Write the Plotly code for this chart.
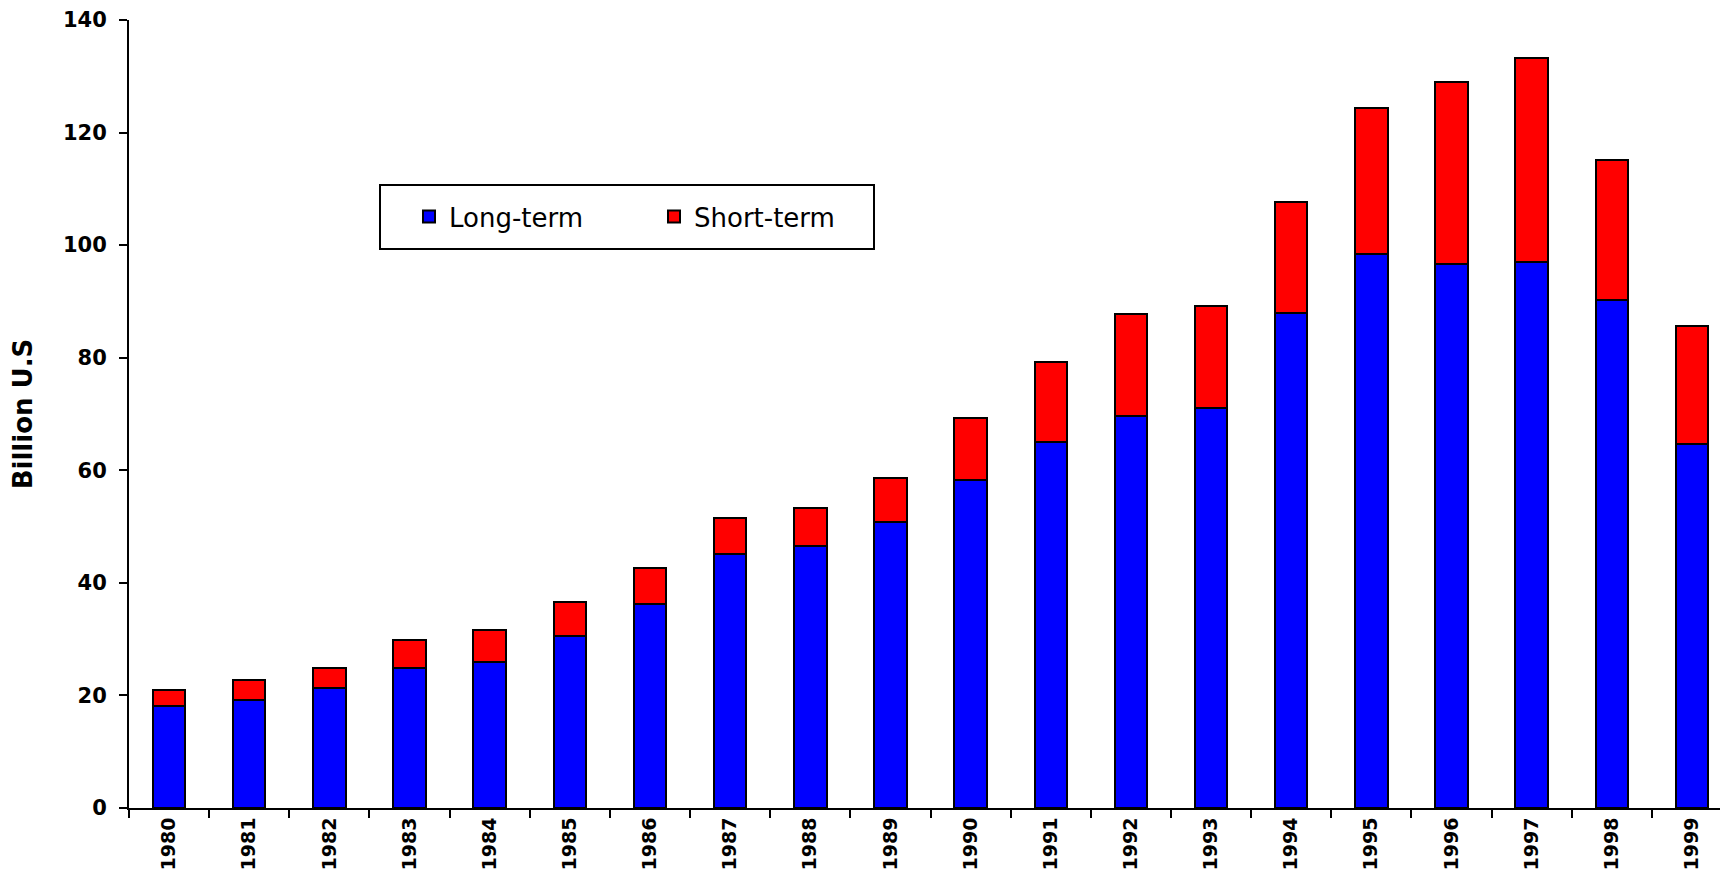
import plotly.graph_objects as go

# values (billion US$)
years = [str(y) for y in range(1980, 2000)]
long_term = [18.1, 19.2, 21.3, 24.8, 25.9, 30.6, 36.2, 45.1, 46.5, 50.9,
             58.3, 65.0, 69.6, 71.0, 88.0, 98.5, 96.6, 97.0, 90.2, 64.6]
total = [21.0, 22.7, 24.9, 29.8, 31.6, 36.6, 42.7, 51.6, 53.3, 58.7,
         69.3, 79.3, 87.8, 89.2, 107.7, 124.4, 129.0, 133.3, 115.2, 85.7]
short_term = [round(t - l, 1) for t, l in zip(total, long_term)]
y_ticks = [0, 20, 40, 60, 80, 100, 120, 140]

# page body has an 8px margin, so the figure is sized/placed to compensate
OFF = 8
W, H = 1728 - OFF, 871 - OFF
L, R, T, B = 129 - OFF, 0, 20 - OFF, 63
pw = W - L - R
ph = H - T - B


def px_x(x):
    return (x - OFF - L) / pw


def px_y(y):
    return (H - B - (y - OFF)) / ph


fig = go.Figure()
fig.add_bar(x=years, y=long_term, name="Long-term",
            marker=dict(color="#0000ff", line=dict(color="black", width=2)))
fig.add_bar(x=years, y=short_term, name="Short-term",
            marker=dict(color="#ff0000", line=dict(color="black", width=2)))

# legend frame
fig.add_shape(type="rect", xref="paper", yref="paper",
              x0=px_x(380), x1=px_x(874), y0=px_y(249), y1=px_y(185),
              line=dict(color="black", width=2), fillcolor="white", layer="below")

fig.update_layout(
    width=W, height=H,
    margin=dict(l=L, r=R, t=T, b=B),
    barmode="stack",
    bargap=0.595,
    plot_bgcolor="white",
    paper_bgcolor="white",
    font=dict(family="DejaVu Sans", color="black"),
    legend=dict(
        orientation="h",
        traceorder="normal",
        x=px_x(409), y=px_y(193),
        xanchor="left", yanchor="top",
        font=dict(family="DejaVu Sans", size=26),
        entrywidth=200,
        bgcolor="rgba(0,0,0,0)",
        borderwidth=0,
    ),
)
fig.update_xaxes(
    type="category",
    range=[-0.5, 19.45],
    automargin=False,
    showline=True, linecolor="black", linewidth=2,
    ticks="outside", tickson="boundaries", ticklen=8, tickwidth=2, tickcolor="black",
    tickangle=-90,
    tickfont=dict(family="DejaVu Sans", size=19, weight="bold"),
    showgrid=False, zeroline=False,
)
fig.update_yaxes(
    range=[0, 140],
    tickvals=y_ticks,
    automargin=False,
    showline=True, linecolor="black", linewidth=2,
    ticks="outside", ticklen=8, tickwidth=2, tickcolor="black",
    ticklabelstandoff=8,
    tickfont=dict(family="DejaVu Sans", size=21, weight="bold"),
    title=dict(text="Billion U.S", standoff=30,
               font=dict(family="DejaVu Sans", size=26, weight="bold")),
    showgrid=False, zeroline=False,
)

fig.write_html("out.html")
